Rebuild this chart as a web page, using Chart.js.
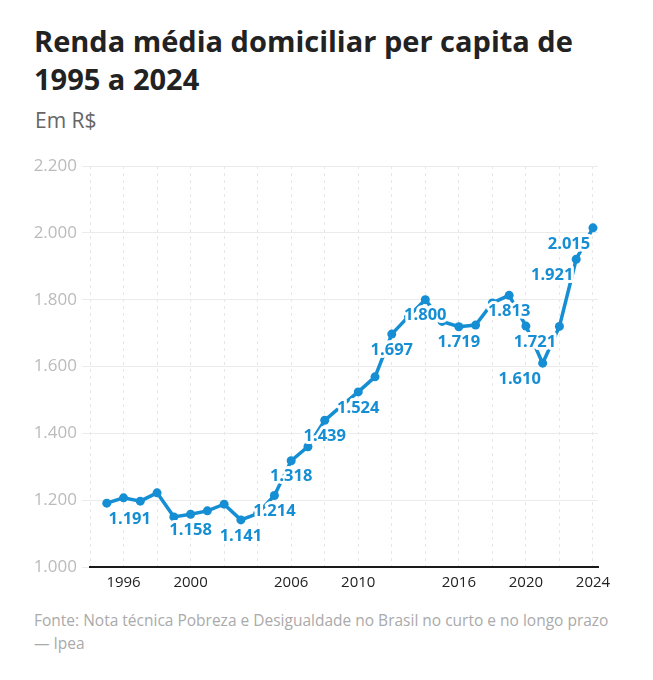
<!DOCTYPE html>
<html><head><meta charset="utf-8">
<script src="https://cdn.jsdelivr.net/npm/chart.js@4.4.1/dist/chart.umd.min.js"></script>
<style>
html,body{margin:0;padding:0;background:#fff;width:653px;height:680px;overflow:hidden;font-family:"Open Sans",sans-serif;}
#title{position:absolute;left:34px;top:22px;font-size:29px;font-weight:700;line-height:37.7px;color:#222;white-space:nowrap;}
#sub{position:absolute;left:35px;top:106px;font-size:21px;color:#666;line-height:28px;}
#src{position:absolute;left:34px;top:609px;font-size:15.5px;line-height:23.3px;color:#aaa;white-space:nowrap;}
#wrap{position:absolute;left:0;top:150px;width:653px;height:450px;}
</style></head><body>
<div id="title">Renda média domiciliar per capita de<br>1995 a 2024</div>
<div id="sub">Em R$</div>
<div id="wrap"><canvas id="c"></canvas></div>
<div id="src">Fonte: Nota técnica Pobreza e Desigualdade no Brasil no curto e no longo prazo<br>— Ipea</div>
<script>
const years = [1995,1996,1997,1998,1999,2000,2001,2002,2003,2004,2005,2006,2007,2008,2009,2010,2011,2012,2013,2014,2015,2016,2017,2018,2019,2020,2021,2022,2023,2024];
const renda = [1191,1207,1197,1222,1150,1158,1168,1188,1141,1160,1214,1318,1360,1439,1482,1524,1569,1697,1750,1800,1735,1719,1724,1790,1813,1721,1610,1720,1921,2015];
const labeledYears = [1995,2000,2003,2005,2006,2008,2010,2012,2014,2016,2019,2020,2021,2023,2024];
const xLabelYears = [1996,2000,2006,2010,2016,2020,2024];
const xGridYears = [1994,1996,1998,2000,2002,2004,2006,2008,2010,2012,2014,2016,2018,2020,2022,2024];
const yTicks = [1000,1200,1400,1600,1800,2000,2200];

const BLUE = '#168ed3';
const labelShift = {1995: 23, 2020: 9, 2021: -23, 2023: -24, 2024: -24};
const fmt = v => String(v).replace(/\B(?=(\d{3})+(?!\d))/g, '.');

const valueLabels = {
  id: 'valueLabels',
  afterDatasetsDraw(chart) {
    const ctx = chart.ctx;
    const meta = chart.getDatasetMeta(0);
    ctx.save();
    ctx.font = 'bold 16.5px "Open Sans"';
    ctx.textAlign = 'center';
    ctx.textBaseline = 'middle';
    ctx.lineJoin = 'round';
    ctx.strokeStyle = '#fff';
    ctx.lineWidth = 6;
    ctx.fillStyle = BLUE;
    meta.data.forEach((pt, i) => {
      const yr = years[i];
      if (!labeledYears.includes(yr)) return;
      const x = pt.x + (labelShift[yr] || 0);
      const y = pt.y + 16;
      const t = fmt(renda[i]);
      ctx.strokeText(t, x, y);
      ctx.fillText(t, x, y);
    });
    ctx.restore();
  }
};

new Chart(document.getElementById('c'), {
  type: 'line',
  data: {
    datasets: [{
      data: years.map((y, i) => ({x: y, y: renda[i]})),
      borderColor: BLUE,
      backgroundColor: BLUE,
      borderWidth: 3.5,
      pointRadius: 4.5,
      pointBorderWidth: 0,
      pointBackgroundColor: BLUE,
      tension: 0,
      fill: false
    }]
  },
  options: {
    responsive: true,
    maintainAspectRatio: false,
    animation: false,
    layout: {padding: {top: 16, right: 55, left: 0, bottom: 0}},
    plugins: {legend: {display: false}, tooltip: {enabled: false}},
    scales: {
      x: {
        type: 'linear',
        min: 1994,
        max: 2024.3,
        afterBuildTicks: s => { s.ticks = xGridYears.map(v => ({value: v})); },
        afterFit: s => { s.height = 33; },
        ticks: {
          autoSkip: false, maxRotation: 0, padding: 7,
          color: '#222',
          font: {family: '"Open Sans"', size: 15},
          callback: v => xLabelYears.includes(v) ? String(v) : ''
        },
        grid: {color: '#e6e6e6', lineWidth: 1, drawTicks: false},
        border: {display: true, color: '#1a1a1a', width: 2, dash: [3, 4]}
      },
      y: {
        min: 1000,
        max: 2200,
        afterBuildTicks: s => { s.ticks = yTicks.map(v => ({value: v})); },
        afterFit: s => { s.width = 90; },
        ticks: {
          padding: 5,
          color: '#bbb',
          font: {family: '"Open Sans"', size: 17},
          callback: v => fmt(v)
        },
        grid: {color: '#ebebeb', lineWidth: 1, drawTicks: true, tickLength: 8},
        border: {display: false}
      }
    }
  },
  plugins: [valueLabels]
});
</script>
</body></html>
